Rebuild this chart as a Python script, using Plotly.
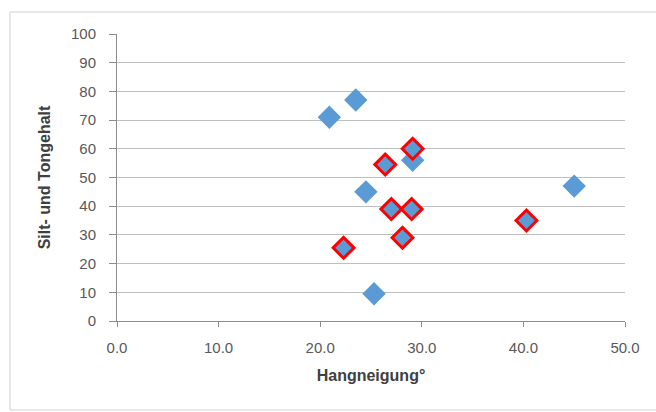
import plotly.graph_objects as go

# Blue series (no outline)
blue_x = [20.9, 23.5, 24.5, 25.3, 29.1, 45.0]
blue_y = [71.0, 77.0, 45.0, 9.5, 56.0, 47.0]
# Red-outlined series
red_x = [22.3, 26.4, 27.0, 28.1, 29.0, 29.1, 40.3]
red_y = [25.5, 54.5, 39.0, 29.0, 39.0, 60.0, 35.0]

x_ticks = [0, 10, 20, 30, 40, 50]
y_ticks = [0, 10, 20, 30, 40, 50, 60, 70, 80, 90, 100]

fill = "#5B9BD5"
font = "Liberation Sans, Arial, sans-serif"

fig = go.Figure()
fig.add_trace(go.Scatter(x=blue_x, y=blue_y, mode="markers",
                         marker=dict(symbol="diamond", size=18, color=fill,
                                     line=dict(width=0)),
                         showlegend=False))
fig.add_trace(go.Scatter(x=red_x, y=red_y, mode="markers",
                         marker=dict(symbol="diamond", size=16, color=fill,
                                     line=dict(width=3, color="#FF0000")),
                         showlegend=False))

fig.update_layout(
    width=656, height=412,
    margin=dict(l=117, r=31, t=34, b=91),
    paper_bgcolor="white", plot_bgcolor="white",
    font=dict(family=font, size=15, color="#595959"),
    xaxis=dict(range=[0, 50], tickvals=x_ticks, tickformat=".1f",
               showgrid=False, zeroline=False, automargin=False,
               showline=True, linecolor="#8c8c8c", linewidth=1,
               ticks="outside", ticklen=5, tickcolor="#8c8c8c",
               ticklabelstandoff=8,
               title=dict(text="<b>Hangneigung°</b>", standoff=14,
                          font=dict(size=16, color="#404040"))),
    yaxis=dict(range=[0, 100], tickvals=y_ticks,
               showgrid=True, gridcolor="#bfbfbf", gridwidth=1,
               zeroline=False, automargin=False,
               showline=True, linecolor="#8c8c8c", linewidth=1,
               ticks="outside", ticklen=7, tickcolor="#8c8c8c",
               ticklabelstandoff=10,
               title=dict(text="<b>Silt- und Tongehalt</b>", standoff=16,
                          font=dict(size=16, color="#404040"))),
    shapes=[dict(type="rect", xref="paper", yref="paper",
                 x0=-0.2106, x1=1.08, y0=-0.31, y1=1.0767,
                 line=dict(color="#d0d0d0", width=1), layer="below")],
)

fig.write_html("out.html")
